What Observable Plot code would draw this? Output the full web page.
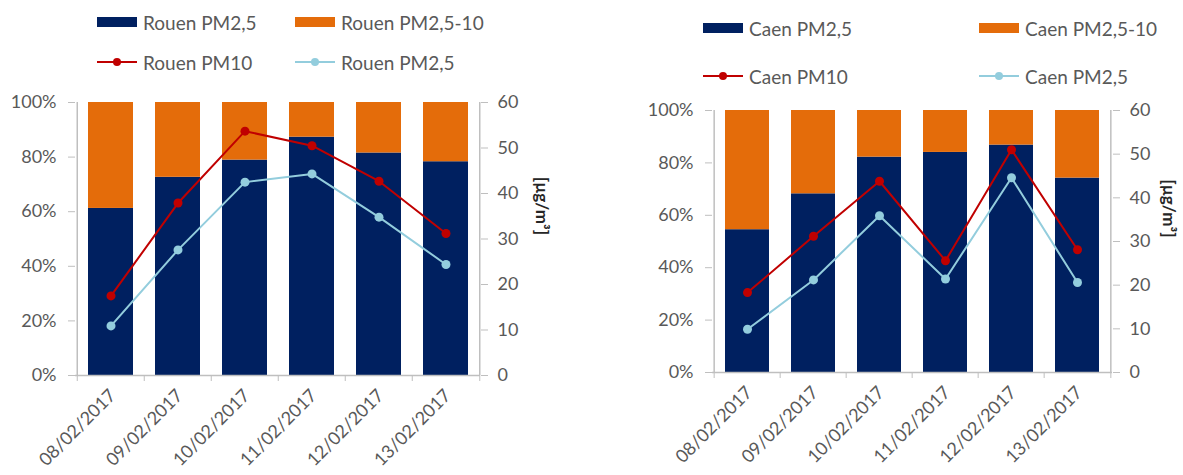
<!DOCTYPE html>
<html>
<head>
<meta charset="utf-8">
<script src="https://cdn.jsdelivr.net/npm/d3@7"></script>
<script src="https://cdn.jsdelivr.net/npm/@observablehq/plot@0.6"></script>
<style>
  body { margin: 0; background: #fff; font-family: Lato, "Open Sans", sans-serif; }
  #root { position: relative; width: 1183px; height: 475px; overflow: hidden; }
  .layer { position: absolute; top: 0; }
  .layer svg { overflow: visible; }
  .leg { position: absolute; display: flex; align-items: center; font-size: 19px; color: #595959; white-space: nowrap; line-height: 1; }
  .leg svg { margin-right: 6px; display: block; }
</style>
</head>
<body>
<div id="root"></div>
<script>
// ---- data ----
const dates = ["08/02/2017", "09/02/2017", "10/02/2017", "11/02/2017", "12/02/2017", "13/02/2017"];
const parts = ["PM2,5", "PM2,5-10"];
const pctTicks = [0, 20, 40, 60, 80, 100];
const concTicks = [0, 10, 20, 30, 40, 50, 60];

// Rouen: share of PM2,5 in PM10 (%), concentrations (µg/m³)
const rouenShare = [61.2, 72.6, 78.9, 87.3, 81.5, 78.3];
const rouenPM10 = [17.5, 37.9, 53.7, 50.5, 42.7, 31.2];
const rouenPM25 = [10.9, 27.6, 42.5, 44.3, 34.8, 24.4];

// Caen
const caenShare = [54.5, 68.2, 82.2, 84.0, 86.8, 74.2];
const caenPM10 = [18.3, 31.2, 43.8, 25.6, 51.0, 28.1];
const caenPM25 = [9.9, 21.2, 35.9, 21.4, 44.6, 20.6];

// ---- style ----
const navy = "#002060", orange = "#E46C0A", red = "#C00000", light = "#93CDDD";
const axisGrey = "#BFBFBF", textGrey = "#595959";
const FONT = "Lato, 'Open Sans', sans-serif";

const root = document.getElementById("root");

function legendItem(x, y, kind, color, label) {
  const div = document.createElement("div");
  div.className = "leg";
  div.style.left = x + "px";
  div.style.top = (y - 12) + "px";
  div.style.height = "24px";
  let sw;
  if (kind === "bar") {
    sw = `<svg width="40" height="12"><rect x="0" y="1" width="40" height="10" fill="${color}"/></svg>`;
  } else {
    sw = `<svg width="40" height="12"><line x1="0" y1="6" x2="40" y2="6" stroke="${color}" stroke-width="2"/><circle cx="20" cy="6" r="4" fill="${color}"/></svg>`;
  }
  div.innerHTML = sw + `<span>${label}</span>`;
  root.appendChild(div);
}

function panel(cfg) {
  const {left, width, height, mL, mR, mT, mB, share, pm10, pm25, labelDx} = cfg;
  const bw = (width - mL - mR) / dates.length;
  const barRows = dates.flatMap((d, i) => [
    {date: d, part: parts[0], value: share[i]},
    {date: d, part: parts[1], value: 100 - share[i]}
  ]);
  const lineRows = dates.map((d, i) => ({date: d, pm10: pm10[i], pm25: pm25[i]}));
  const common = {
    width, height, marginLeft: mL, marginRight: mR, marginTop: mT, marginBottom: mB,
    style: {fontFamily: FONT, fontSize: "18px", color: textGrey, background: "transparent", overflow: "visible"},
    x: {type: "band", domain: dates, padding: 0, axis: null}
  };

  const bars = Plot.plot({
    ...common,
    y: {domain: [0, 100], axis: null},
    color: {domain: parts, range: [navy, orange]},
    marks: [
      Plot.barY(barRows, {x: "date", y: "value", fill: "part", insetLeft: 11, insetRight: 11}),
      Plot.ruleY([0], {stroke: axisGrey, strokeWidth: 1.5}),
      Plot.ruleX([dates[0]], {x: d => d, dx: -bw / 2, stroke: axisGrey, strokeWidth: 1.5}),
      Plot.axisY({ticks: pctTicks, tickFormat: d => d + "%", tickSize: 7, tickPadding: 12, stroke: axisGrey, fill: textGrey, label: null, fontSize: 18}),
      Plot.axisX({ticks: dates, tickSize: 6, tickFormat: () => "", dx: -bw / 2, stroke: axisGrey, label: null}),
      Plot.axisX({ticks: [dates[dates.length - 1]], tickSize: 6, tickFormat: () => "", dx: bw / 2, stroke: axisGrey, label: null}),
      Plot.text(dates, {x: d => d, frameAnchor: "bottom", dx: 6, dy: 21, rotate: -45, textAnchor: "end", fill: textGrey, fontSize: 18})
    ]
  });

  const lines = Plot.plot({
    ...common,
    y: {domain: [0, 60], axis: null},
    marks: [
      Plot.ruleX([dates[dates.length - 1]], {x: d => d, dx: bw / 2, stroke: axisGrey, strokeWidth: 1.5}),
      Plot.axisY({anchor: "right", ticks: concTicks, tickSize: 7, tickPadding: 10, stroke: axisGrey, fill: textGrey, label: null, fontSize: 18}),
      Plot.line(lineRows, {x: "date", y: "pm25", stroke: light, strokeWidth: 2}),
      Plot.dot(lineRows, {x: "date", y: "pm25", r: 4.5, fill: light}),
      Plot.line(lineRows, {x: "date", y: "pm10", stroke: red, strokeWidth: 2}),
      Plot.dot(lineRows, {x: "date", y: "pm10", r: 4.5, fill: red}),
      Plot.text(["[µg/m³]"], {frameAnchor: "right", dx: labelDx, dy: -4, rotate: 90, fontWeight: "bold", fontSize: 17, fill: "#262626"})
    ]
  });

  for (const svg of [bars, lines]) {
    const wrap = document.createElement("div");
    wrap.className = "layer";
    wrap.style.left = left + "px";
    wrap.appendChild(svg);
    root.appendChild(wrap);
  }
}

panel({left: 0, width: 600, height: 475, mL: 75, mR: 120, mT: 102, mB: 100,
  share: rouenShare, pm10: rouenPM10, pm25: rouenPM25, labelDx: 61});
panel({left: 600, width: 583, height: 475, mL: 112, mR: 71, mT: 110, mB: 103,
  share: caenShare, pm10: caenPM10, pm25: caenPM25, labelDx: 56});

legendItem(97, 22, "bar", navy, "Rouen PM2,5");
legendItem(295, 22, "bar", orange, "Rouen PM2,5-10");
legendItem(97, 62, "line", red, "Rouen PM10");
legendItem(295, 62, "line", light, "Rouen PM2,5");

legendItem(703, 28, "bar", navy, "Caen PM2,5");
legendItem(979, 28, "bar", orange, "Caen PM2,5-10");
legendItem(703, 76, "line", red, "Caen PM10");
legendItem(979, 76, "line", light, "Caen PM2,5");
</script>
</body>
</html>
